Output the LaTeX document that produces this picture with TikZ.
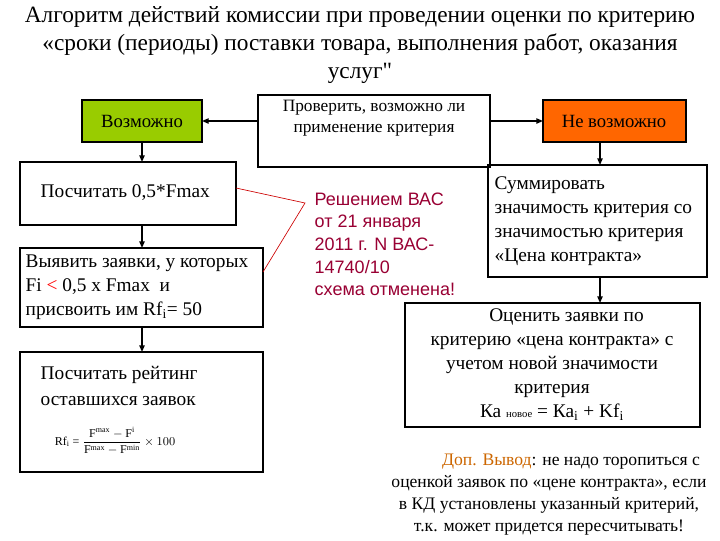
\documentclass[tikz,border=0pt]{standalone}
\usepackage{fontspec}
\setmainfont{Liberation Serif}
\newfontfamily\arial{Liberation Sans}
\usetikzlibrary{arrows.meta}
\definecolor{gr}{HTML}{99CC00}
\definecolor{or}{HTML}{FF6600}
\definecolor{dr}{HTML}{990033}
\definecolor{br}{HTML}{CC6600}
\begin{document}
\begin{tikzpicture}[x=0.75pt,y=-0.75pt,
 bx/.style={draw=black,line width=0.8pt,inner sep=0pt},
 tx/.style={font=\fontsize{14.5}{18}\selectfont,align=left,anchor=west},
 arr/.style={-{Triangle[length=5pt,width=4pt]},line width=1pt}]
\useasboundingbox (0,0) rectangle (720,540);
\node[font=\fontsize{17.5}{21}\selectfont,align=center] (title) at (360,45) {Алгоритм действий комиссии при проведении оценки по критерию\\«сроки (периоды) поставки товара, выполнения работ, оказания\\услуг\textquotedbl};
% boxes
\draw[bx,fill=gr] (82,100) rectangle (202,142);
\node[font=\fontsize{14}{16}\selectfont] (posT) at (142,121) {Возможно};
\draw[bx] (258,95) rectangle (490,167);
\node[font=\fontsize{13}{16}\selectfont,align=center] (chk) at (374,118) {Проверить, возможно ли\\применение критерия};
\draw[bx,fill=or] (543,100) rectangle (686,142);
\node[font=\fontsize{14}{16}\selectfont] (np) at (614,121) {Не возможно};
\draw[bx] (20,162) rectangle (236,225);
\node[tx] (s1) at (36,193) {Посчитать 0,5*Fmax};
\draw[bx] (20,248) rectangle (263,327);
\node[tx,font=\fontsize{14.5}{18}\selectfont] (s2) at (21,287) {Выявить заявки, у которых\\Fi {\color{red}<} 0,5 x Fmax\ \ и\\присвоить им Rf$_{\mathrm{i}}$= 50};
\draw[bx] (20,352) rectangle (263,472);
\node[tx,font=\fontsize{14.5}{19}\selectfont,anchor=north west] (s3) at (36,362) {Посчитать рейтинг\\оставшихся заявок};
\node[font=\fontsize{9}{10}\selectfont] (f) at (115,441) {Rf$_{\mathrm{i}}$ = $\displaystyle\frac{\mathrm{F}^{\max}-\mathrm{F}^{\mathrm{i}}}{\mathrm{F}^{\max}-\mathrm{F}^{\min}}\times100$};
\draw[bx] (488,165) rectangle (707,277);
\node[tx,font=\fontsize{14.5}{18}\selectfont] (r1) at (490,221) {Суммировать\\значимость критерия со\\значимостью критерия\\«Цена контракта»};
\draw[bx] (405,303) rectangle (700,427);
\node[font=\fontsize{14.5}{18}\selectfont,align=center] (r2) at (552,365) {\hspace*{1.5em}Оценить заявки по\\критерию «цена контракта» с\\учетом новой значимости\\критерия\\Ка {\fontsize{8}{9}\selectfont новое} = Ка$_{\mathrm{i}}$ + Kf$_{\mathrm{i}}$};
% red note
\node[tx,font=\arial\fontsize{13.5}{17}\selectfont,text=dr,anchor=north west] (note) at (310,188) {Решением ВАС\\от 21 января\\2011 г. N ВАС-\\14740/10\\схема отменена!};
\coordinate (c1) at (236,188);
\coordinate (c2) at (305,203);
\coordinate (c3) at (263,272);
\draw[red!80!black,line width=0.5pt] (c1) -- (c2) -- (c3);
% arrows
\draw[arr] (258,121) -- (202,121);
\draw[arr] (490,121) -- (543,121);
\draw[arr] (142,142) -- (142,162);
\draw[arr] (142,225) -- (142,248);
\draw[arr] (142,327) -- (142,352);
\draw[arr] (600,142) -- (600,165);
\draw[arr] (600,277) -- (600,303);
% bottom
\node[font=\fontsize{13.2}{16.5}\selectfont,align=center] (bot) at (549,495) {\hspace*{2.5em}{\color{br}Доп. Вывод}: не надо торопиться с\\оценкой заявок по «цене контракта», если\\в КД установлены указанный критерий,\\т.к. может придется пересчитывать!};
\end{tikzpicture}
\end{document}
